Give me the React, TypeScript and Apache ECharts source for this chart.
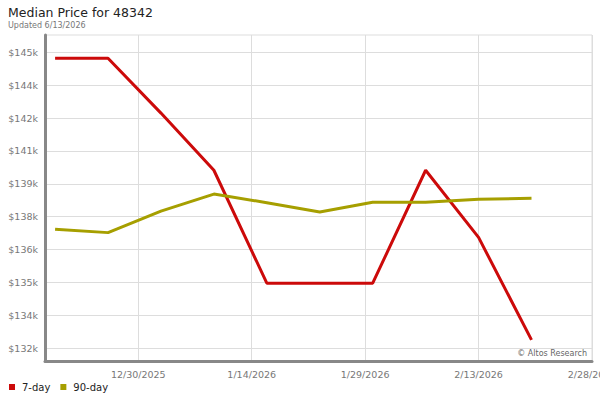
import React, { useEffect, useRef } from "react";
import * as echarts from "echarts";

const dates = [
  "2025-12-19", "2025-12-26", "2026-01-02", "2026-01-09", "2026-01-16",
  "2026-01-23", "2026-01-30", "2026-02-06", "2026-02-13", "2026-02-20",
];
const sevenDay = [144885, 144885, 142470, 139950, 134970, 134970, 134970, 139950, 136990, 132470];
const ninetyDay = [137350, 137200, 138150, 138900, 138520, 138110, 138540, 138540, 138670, 138710];
const yTicks = [132100, 133550, 135000, 136450, 137900, 139350, 140800, 142250, 143700, 145150];
const xTickDates = ["2025-12-30", "2026-01-14", "2026-01-29", "2026-02-13", "2026-02-28"];

const toTs = (s: string) => {
  const [y, m, d] = s.split("-").map(Number);
  return Date.UTC(y, m - 1, d);
};

export default function App() {
  const ref = useRef<HTMLDivElement>(null);
  useEffect(() => {
    if (!ref.current) return;
    const chart = echarts.init(ref.current, undefined, { renderer: "svg" });
    const font = "'DejaVu Sans', Verdana, sans-serif";
    const xTicks = xTickDates.map(toTs);
    chart.setOption({
      animation: false,
      backgroundColor: "#ffffff",
      title: {
        text: "Median Price for 48342",
        subtext: "Updated 6/13/2026",
        left: 3,
        top: 1,
        itemGap: 2,
        textStyle: { fontFamily: font, fontSize: 12.5, fontWeight: "normal", color: "#222" },
        subtextStyle: { fontFamily: font, fontSize: 8, color: "#777" },
      },
      legend: {
        left: 4,
        top: 377,
        itemWidth: 6,
        itemHeight: 6,
        itemGap: 10,
        icon: "rect",
        textStyle: { fontFamily: font, fontSize: 10, color: "#222", padding: [0, 0, 0, 2] },
        data: ["7-day", "90-day"],
      },
      grid: {
        left: 45,
        right: 8,
        top: 35,
        bottom: 39,
        outerBoundsMode: "none",
        containLabel: false,
        show: true,
        borderColor: "#dddddd",
        borderWidth: 1,
      },
      xAxis: {
        type: "value",
        min: Date.UTC(2025, 11, 17, 16),
        max: toTs("2026-02-28"),
        axisLine: { show: true, lineStyle: { color: "#888", width: 3 } },
        axisTick: { show: false, customValues: xTicks },
        axisLabel: {
          customValues: xTicks,
          fontFamily: font,
          fontSize: 9.5,
          color: "#777",
          margin: 8,
          hideOverlap: false,
          formatter: (v: number) => {
            const d = new Date(v);
            return `${d.getUTCMonth() + 1}/${d.getUTCDate()}/${d.getUTCFullYear()}`;
          },
        },
        splitLine: { show: true, lineStyle: { color: "#dddddd", width: 1 } },
      },
      yAxis: {
        type: "value",
        min: 131540,
        max: 145913,
        axisLine: { show: true, lineStyle: { color: "#888", width: 3 } },
        axisTick: { show: false, customValues: yTicks },
        axisLabel: {
          customValues: yTicks,
          fontFamily: font,
          fontSize: 9.5,
          color: "#777",
          margin: 7,
          formatter: (v: number) => "$" + Math.round(v / 1000) + "k",
        },
        splitLine: { show: true, lineStyle: { color: "#dddddd", width: 1 } },
      },
      graphic: [
        {
          type: "text",
          right: 13,
          top: 349,
          style: {
            text: "© Altos Research",
            fontFamily: font,
            fontSize: 8,
            fill: "#666",
          },
        },
      ],
      series: [
        {
          name: "7-day",
          type: "line",
          data: dates.map((d, i) => [toTs(d), sevenDay[i]]),
          symbol: "none",
          lineStyle: { color: "#cc0a0a", width: 3 },
          itemStyle: { color: "#cc0a0a" },
        },
        {
          name: "90-day",
          type: "line",
          data: dates.map((d, i) => [toTs(d), ninetyDay[i]]),
          symbol: "none",
          lineStyle: { color: "#a69f00", width: 3 },
          itemStyle: { color: "#a69f00" },
        },
      ],
    });
    return () => chart.dispose();
  }, []);
  return <div ref={ref} style={{ width: 600, height: 400, position: "absolute", left: 0, top: 0 }} />;
}
